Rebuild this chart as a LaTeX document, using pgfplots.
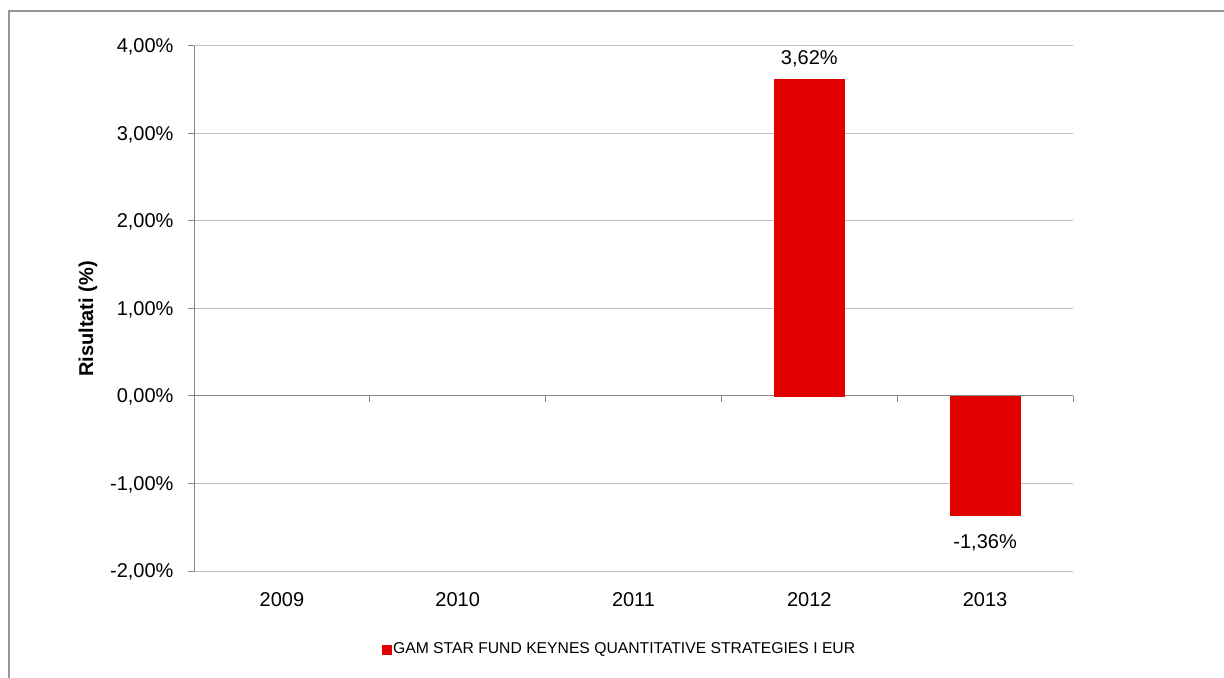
\documentclass[border=0pt]{standalone}
\usepackage{pgfplots}
\pgfplotsset{compat=1.18}
\usepackage{fontspec}
\setmainfont{Liberation Sans}
\definecolor{barred}{RGB}{224,0,0}
\definecolor{gridgray}{RGB}{192,192,192}
\definecolor{axisgray}{RGB}{134,134,134}
\definecolor{framegray}{RGB}{150,150,150}
\begin{document}
\begin{tikzpicture}
\useasboundingbox (0,0) rectangle (1224bp,678bp);
\draw[framegray, line width=1.2bp] (9bp,0) -- (9bp,667bp) -- (1224bp,667bp);
\begin{axis}[
  at={(194bp,107bp)}, anchor=south west,
  scale only axis, width=879bp, height=525bp,
  xmin=-0.5, xmax=4.5, ymin=-2, ymax=4,
  axis y line*=left, axis x line*=bottom,
  x axis line style={draw=none},
  y axis line style={axisgray, line width=1bp},
  xtick={0,1,2,3,4},
  xticklabels={2009,2010,2011,2012,2013},
  xtick style={draw=none},
  ytick={-2,-1,0,1,2,3,4},
  yticklabels={-2{,}00\%,-1{,}00\%,0{,}00\%,1{,}00\%,2{,}00\%,3{,}00\%,4{,}00\%},
  ytick style={axisgray, line width=1bp},
  tick align=outside, major tick length=6bp,
  ymajorgrids, major grid style={gridgray, line width=1bp},
  ticklabel style={font=\fontsize{20bp}{24bp}\selectfont, text=black},
  yticklabel style={xshift=-11bp, yshift=-1bp},
  xticklabel style={yshift=-12bp},
  ylabel={\textbf{Risultati (\%)}},
  ylabel style={at={(axis description cs:-0.1206,0.48)}, anchor=center, font=\fontsize{20bp}{24bp}\selectfont},
  ybar, bar width=70bp, bar shift=0pt,
  nodes near coords, point meta=explicit symbolic,
  every node near coord/.append style={font=\fontsize{20bp}{24bp}\selectfont, text=black, inner sep=6bp},
  legend style={at={(axis description cs:0.484,-0.149)}, anchor=center, draw=none, fill=none,
    font=\fontsize{15.7bp}{18bp}\selectfont, inner sep=0pt},
  legend image code/.code={\fill[barred] (0bp,-4.5bp) rectangle (9bp,4.5bp);},
  legend cell align=left,
  clip=false,
]
\draw[axisgray, line width=1bp] (axis cs:-0.5,0) -- (axis cs:4.5,0);
\pgfplotsinvokeforeach{0.5,1.5,2.5,3.5,4.5}{
  \draw[axisgray, line width=1bp] (axis cs:#1,0) -- ([yshift=-6bp]axis cs:#1,0);
}
\addplot[fill=barred, draw=barred,
  every node near coord/.append style={anchor=south, yshift=6bp}]
  coordinates {(3,3.62) [3{,}62\%]};
\addlegendentry{GAM STAR FUND KEYNES QUANTITATIVE STRATEGIES I EUR}
\addplot[fill=barred, draw=barred, forget plot,
  every node near coord/.append style={anchor=north, yshift=-13bp}]
  coordinates {(4,-1.36) [-1{,}36\%]};
\end{axis}
\end{tikzpicture}
\end{document}
